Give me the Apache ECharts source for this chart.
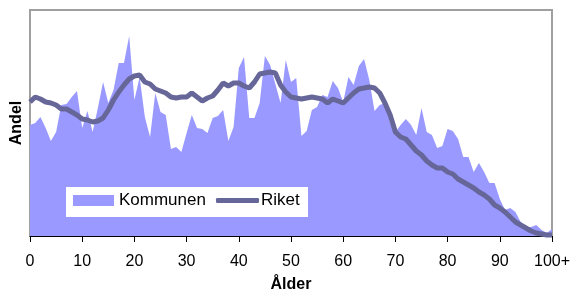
<!DOCTYPE html>
<html>
<head>
<meta charset="utf-8">
<script src="https://cdn.jsdelivr.net/npm/echarts@6/dist/echarts.min.js"></script>
<style>html,body{margin:0;padding:0;background:#fff}#c{width:573px;height:294px}</style>
</head>
<body>
<div id="c"></div>
<script>
var ages = [];
for (var i = 0; i < 100; i++) ages.push(String(i));
ages.push('100+');
var kommunen = [111,113,119,108,95,104,131,132,139,145,108,125,104,128,154,133,146,173,173,200,
136,159,119,99,143,124,121,87,89,84,103,121,108,107,103,118,120,126,95,109,
168,179,118,118,133,180,171,152,133,176,154,158,100,105,126,129,141,139,155,148,
134,159,151,170,177,156,125,131,133,113,104,111,117,111,101,128,104,101,88,90,
107,105,97,79,79,64,73,64,53,53,37,26,28,24,14,9,9,11,6,3,7];
var riket = [134,139,137,134,133,131,127,127,124,121,117,116,114,115,118,126,136,144,151,157,
160,161,154,152,147,145,143,139,138,139,139,143,139,135,138,140,146,153,150,153,
153,150,148,154,162,163,164,163,151,144,139,138,137,138,139,138,137,133,137,135,
133,138,143,147,148,149,148,143,133,121,104,99,97,91,85,81,75,71,68,68,
64,62,57,54,51,48,44,41,37,31,28,24,19,14,11,8,5,3,2,1,1];
var chart = echarts.init(document.getElementById('c'), null, {renderer: 'canvas'});
var font = 'Liberation Sans, Arial, sans-serif';
chart.setOption({
  animation: false,
  textStyle: {fontFamily: font},
  grid: {left: 30, right: 21, top: 10, bottom: 58, outerBoundsMode: 'none', containLabel: false,
         show: true, borderColor: '#a0a0a0', borderWidth: 2, backgroundColor: 'transparent'},
  graphic: [{type: 'rect', z: 100, shape: {x: 66, y: 187, width: 242, height: 30}, style: {fill: '#fff'}}],
  legend: [
    {data: [{name: 'Kommunen', icon: 'rect'}], left: 73, top: 192, padding: 0, itemWidth: 41, itemHeight: 11, selectedMode: false, z: 110,
     textStyle: {fontSize: 17, color: '#000', fontFamily: font}},
    {data: [{name: 'Riket', icon: 'roundRect'}], left: 216, top: 192, padding: 0, itemWidth: 43, itemHeight: 5, selectedMode: false, z: 110,
     textStyle: {fontSize: 17, color: '#000', fontFamily: font, padding: [0, 0, 0, -3]}}
  ],
  xAxis: {
    type: 'category', data: ages, boundaryGap: false,
    name: 'Ålder', nameLocation: 'middle', nameGap: 41,
    nameTextStyle: {fontSize: 16, fontWeight: 'bold', color: '#000', fontFamily: font},
    axisLine: {lineStyle: {color: '#000', width: 1}},
    axisTick: {show: true, interval: 9, length: 6, lineStyle: {color: '#000'}},
    axisLabel: {interval: 9, fontSize: 16, color: '#000', margin: 18, fontFamily: font},
    splitLine: {show: false}
  },
  yAxis: {
    type: 'value', min: 0, max: 226,
    name: 'Andel', nameLocation: 'middle', nameGap: 5,
    nameTextStyle: {fontSize: 16, fontWeight: 'bold', color: '#000', fontFamily: font},
    axisLine: {show: false}, axisTick: {show: false}, axisLabel: {show: false}, splitLine: {show: false}
  },
  series: [
    {name: 'Kommunen', type: 'line', data: kommunen, symbol: 'none', lineStyle: {width: 0},
     itemStyle: {color: '#9999ff'}, areaStyle: {color: '#9999ff', opacity: 1}},
    {name: 'Riket', type: 'line', data: riket, symbol: 'none',
     itemStyle: {color: '#666699'}, lineStyle: {color: '#666699', width: 5}}
  ]
});
</script>
</body>
</html>
